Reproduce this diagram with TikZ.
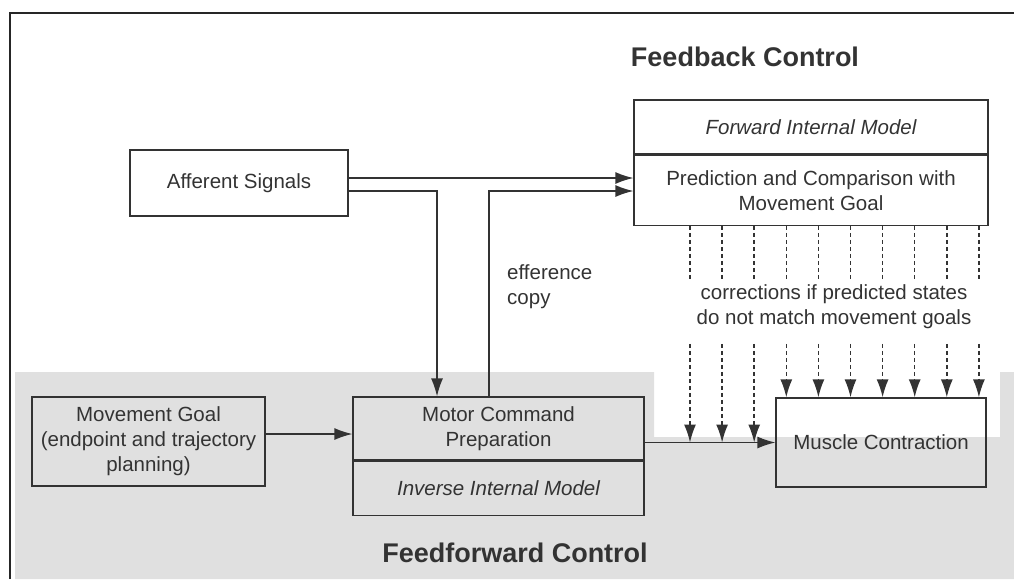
\documentclass[tikz,border=0pt]{standalone}
\usepackage{fontspec}
\setmainfont{Liberation Sans}
\usetikzlibrary{positioning,arrows.meta}

\begin{document}
\begin{tikzpicture}[
    x=1pt, y=-1pt,
    every node/.style={font=\fontsize{20.5}{25}\selectfont, text=black!80, inner sep=0pt},
    box/.style={draw=black!80, line width=1.3pt, align=center},
    title/.style={font=\fontsize{27}{32}\selectfont\bfseries},
    link/.style={draw=black!80, line width=1.3pt, -{Latex[length=18pt,width=12pt]}},
    corr/.style={draw=black!80, line width=1.5pt, dash pattern=on 4pt off 3pt}
]
\useasboundingbox (0,0) rectangle (1014,579);

% Fond et cadre
\fill[black!12] (15,372) -- (654,372) -- (654,437) -- (1000,437) -- (1000,372)
    -- (1014,372) -- (1014,579) -- (15,579) -- cycle;
\draw[black!85, line width=1.6pt] (10,579) -- (10,13) -- (1014,13);

% Titres
\node[title] (fbtitle) at (745,57) {Feedback Control};
\node[title] (fftitle) at (515,553) {Feedforward Control};

% Boites
\node[box, minimum width=218pt, minimum height=66pt] (afferent) at (239,183) {Afferent Signals};

\node[box, minimum width=354pt, minimum height=54pt] (fwdmodel) at (811,127) {\itshape Forward Internal Model};
\node[box, minimum width=354pt, minimum height=70pt, below=0pt of fwdmodel] (fwd) {Prediction and Comparison with\\
Movement Goal};

\node[box, minimum width=233pt, minimum height=89pt] (goal) at (148.5,441.5) {Movement Goal\\
(endpoint and trajectory\\
planning)};

\node[box, minimum width=291pt, minimum height=63pt] (motor) at (498.5,428.5) {Motor Command\\
Preparation};
\node[box, minimum width=291pt, minimum height=54pt, below=0pt of motor] (inverse) {\itshape Inverse Internal Model};

\node[box, minimum width=210pt, minimum height=89pt] (muscle) at (881,442.5) {Muscle Contraction};

% Textes
\node[align=left, anchor=west] (effcopy) at (507,287) {efference\\
copy};
\node[align=center] (corrtext) at (834,307) {corrections if predicted states\\
do not match movement goals};

% Liens
\coordinate (affhi) at ([yshift=5pt]afferent.east);
\coordinate (afflo) at ([yshift=-8pt]afferent.east);
\coordinate (goalout) at ([yshift=7.5pt]goal.east);
\draw[link] (affhi) -- (affhi -| fwd.west);
\draw[link] (afflo) -| ([xshift=-61.5pt]motor.north);
\draw[link] ([xshift=-9.5pt]motor.north) |- (afflo -| fwd.west);
\draw[link] (goalout) -- (goalout -| motor.west);
\draw[link] (motor.east |- muscle.west) -- (muscle.west);

% Corrections
\foreach \i in {0,...,9}{
    \coordinate (c\i) at ([xshift={-121pt+\i*32.1pt}]fwd.south);
    \draw[corr] (c\i) -- ++(0,53);
}
\foreach \i in {0,1,2}
    \draw[corr, -{Latex[length=18pt,width=12pt]}] ([yshift=-118pt]c\i) -- (c\i |- muscle.west);
\foreach \i in {3,...,9}
    \draw[corr, -{Latex[length=18pt,width=12pt]}] ([yshift=-118pt]c\i) -- (c\i |- muscle.north);

\end{tikzpicture}
\end{document}
